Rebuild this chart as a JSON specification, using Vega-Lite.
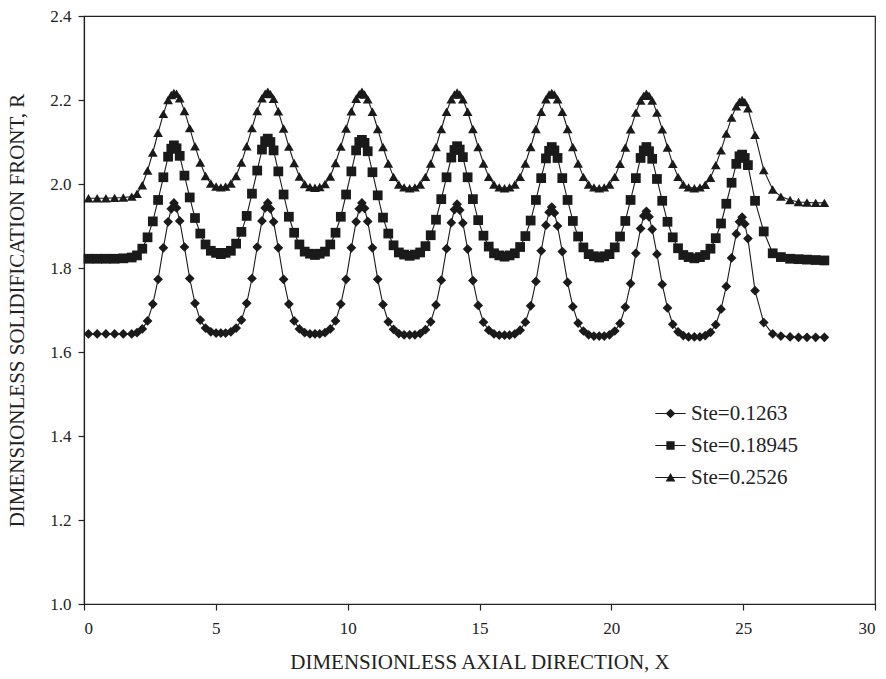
{
  "$schema": "https://vega.github.io/schema/vega-lite/v6.json",
  "width": 791,
  "height": 588,
  "autosize": {"type": "none"},
  "padding": {"left": 84, "top": 16, "right": 11, "bottom": 75},
  "background": "white",
  "config": {
    "view": {"stroke": "#222222", "strokeWidth": 1.2},
    "font": "Liberation Serif",
    "axis": {
      "grid": false,
      "domainColor": "#222222",
      "domainWidth": 1.2,
      "tickColor": "#222222",
      "tickWidth": 1.2,
      "tickSize": 6,
      "labelFont": "Liberation Serif",
      "labelFontSize": 17,
      "labelColor": "#222222",
      "titleFont": "Liberation Serif",
      "titleFontSize": 21,
      "titleFontWeight": "normal",
      "titleColor": "#222222"
    },
    "legend": {
      "labelFont": "Liberation Serif",
      "labelFontSize": 21,
      "labelColor": "#222222"
    }
  },
  "data": {
    "values": [
      {"x":0.17,"a":1.643,"b":1.822,"c":1.966},
      {"x":0.5,"a":1.643,"b":1.822,"c":1.966},
      {"x":0.83,"a":1.643,"b":1.822,"c":1.966},
      {"x":1.16,"a":1.643,"b":1.822,"c":1.967},
      {"x":1.49,"a":1.643,"b":1.823,"c":1.968},
      {"x":1.81,"a":1.643,"b":1.825,"c":1.970},
      {"x":2.01,"a":1.646,"b":1.830,"c":1.977},
      {"x":2.21,"a":1.655,"b":1.846,"c":1.997},
      {"x":2.41,"a":1.674,"b":1.873,"c":2.032},
      {"x":2.61,"a":1.714,"b":1.911,"c":2.075},
      {"x":2.81,"a":1.773,"b":1.962,"c":2.122},
      {"x":3.01,"a":1.848,"b":2.016,"c":2.167},
      {"x":3.19,"a":1.910,"b":2.065,"c":2.200},
      {"x":3.31,"a":1.941,"b":2.084,"c":2.212},
      {"x":3.41,"a":1.955,"b":2.092,"c":2.217},
      {"x":3.51,"a":1.943,"b":2.085,"c":2.215},
      {"x":3.63,"a":1.912,"b":2.067,"c":2.204},
      {"x":3.81,"a":1.850,"b":2.020,"c":2.174},
      {"x":4.01,"a":1.775,"b":1.968,"c":2.133},
      {"x":4.21,"a":1.716,"b":1.919,"c":2.090},
      {"x":4.41,"a":1.676,"b":1.882,"c":2.051},
      {"x":4.61,"a":1.657,"b":1.856,"c":2.019},
      {"x":4.81,"a":1.648,"b":1.841,"c":2.001},
      {"x":5.01,"a":1.645,"b":1.836,"c":1.994},
      {"x":5.19,"a":1.645,"b":1.833,"c":1.992},
      {"x":5.37,"a":1.645,"b":1.836,"c":1.994},
      {"x":5.57,"a":1.648,"b":1.841,"c":2.001},
      {"x":5.77,"a":1.657,"b":1.858,"c":2.019},
      {"x":5.97,"a":1.676,"b":1.886,"c":2.051},
      {"x":6.17,"a":1.716,"b":1.924,"c":2.090},
      {"x":6.37,"a":1.775,"b":1.977,"c":2.133},
      {"x":6.57,"a":1.850,"b":2.032,"c":2.174},
      {"x":6.75,"a":1.912,"b":2.082,"c":2.204},
      {"x":6.87,"a":1.943,"b":2.102,"c":2.215},
      {"x":6.97,"a":1.955,"b":2.108,"c":2.220},
      {"x":7.07,"a":1.941,"b":2.100,"c":2.214},
      {"x":7.19,"a":1.910,"b":2.080,"c":2.203},
      {"x":7.37,"a":1.848,"b":2.030,"c":2.173},
      {"x":7.57,"a":1.773,"b":1.975,"c":2.132},
      {"x":7.77,"a":1.714,"b":1.922,"c":2.089},
      {"x":7.97,"a":1.674,"b":1.884,"c":2.050},
      {"x":8.17,"a":1.655,"b":1.856,"c":2.018},
      {"x":8.37,"a":1.646,"b":1.839,"c":2.000},
      {"x":8.57,"a":1.643,"b":1.834,"c":1.993},
      {"x":8.76,"a":1.643,"b":1.831,"c":1.991},
      {"x":8.94,"a":1.643,"b":1.834,"c":1.993},
      {"x":9.14,"a":1.646,"b":1.839,"c":2.000},
      {"x":9.34,"a":1.655,"b":1.856,"c":2.018},
      {"x":9.54,"a":1.674,"b":1.884,"c":2.050},
      {"x":9.74,"a":1.714,"b":1.922,"c":2.089},
      {"x":9.94,"a":1.773,"b":1.975,"c":2.132},
      {"x":10.14,"a":1.848,"b":2.030,"c":2.173},
      {"x":10.32,"a":1.910,"b":2.080,"c":2.203},
      {"x":10.44,"a":1.941,"b":2.100,"c":2.214},
      {"x":10.54,"a":1.955,"b":2.105,"c":2.220},
      {"x":10.64,"a":1.942,"b":2.098,"c":2.213},
      {"x":10.76,"a":1.911,"b":2.078,"c":2.202},
      {"x":10.94,"a":1.848,"b":2.028,"c":2.172},
      {"x":11.14,"a":1.773,"b":1.973,"c":2.131},
      {"x":11.34,"a":1.713,"b":1.920,"c":2.088},
      {"x":11.54,"a":1.672,"b":1.882,"c":2.049},
      {"x":11.74,"a":1.654,"b":1.854,"c":2.017},
      {"x":11.94,"a":1.644,"b":1.837,"c":1.999},
      {"x":12.14,"a":1.641,"b":1.832,"c":1.992},
      {"x":12.35,"a":1.641,"b":1.829,"c":1.990},
      {"x":12.55,"a":1.641,"b":1.832,"c":1.992},
      {"x":12.75,"a":1.644,"b":1.837,"c":1.999},
      {"x":12.95,"a":1.653,"b":1.852,"c":2.017},
      {"x":13.15,"a":1.672,"b":1.878,"c":2.049},
      {"x":13.35,"a":1.712,"b":1.915,"c":2.088},
      {"x":13.55,"a":1.771,"b":1.964,"c":2.131},
      {"x":13.75,"a":1.846,"b":2.016,"c":2.172},
      {"x":13.93,"a":1.908,"b":2.063,"c":2.202},
      {"x":14.05,"a":1.939,"b":2.081,"c":2.213},
      {"x":14.15,"a":1.952,"b":2.090,"c":2.218},
      {"x":14.25,"a":1.938,"b":2.082,"c":2.213},
      {"x":14.37,"a":1.907,"b":2.064,"c":2.202},
      {"x":14.55,"a":1.845,"b":2.016,"c":2.172},
      {"x":14.75,"a":1.770,"b":1.964,"c":2.131},
      {"x":14.95,"a":1.711,"b":1.914,"c":2.088},
      {"x":15.15,"a":1.671,"b":1.877,"c":2.049},
      {"x":15.35,"a":1.652,"b":1.851,"c":2.017},
      {"x":15.55,"a":1.643,"b":1.835,"c":1.999},
      {"x":15.75,"a":1.640,"b":1.830,"c":1.992},
      {"x":15.95,"a":1.640,"b":1.827,"c":1.990},
      {"x":16.14,"a":1.640,"b":1.830,"c":1.992},
      {"x":16.34,"a":1.643,"b":1.835,"c":1.999},
      {"x":16.54,"a":1.652,"b":1.850,"c":2.017},
      {"x":16.74,"a":1.671,"b":1.876,"c":2.049},
      {"x":16.94,"a":1.710,"b":1.913,"c":2.088},
      {"x":17.14,"a":1.768,"b":1.962,"c":2.131},
      {"x":17.34,"a":1.841,"b":2.014,"c":2.172},
      {"x":17.52,"a":1.902,"b":2.061,"c":2.202},
      {"x":17.64,"a":1.933,"b":2.079,"c":2.213},
      {"x":17.74,"a":1.945,"b":2.088,"c":2.217},
      {"x":17.84,"a":1.931,"b":2.080,"c":2.213},
      {"x":17.96,"a":1.900,"b":2.062,"c":2.202},
      {"x":18.14,"a":1.839,"b":2.014,"c":2.172},
      {"x":18.34,"a":1.766,"b":1.962,"c":2.131},
      {"x":18.54,"a":1.708,"b":1.912,"c":2.088},
      {"x":18.74,"a":1.669,"b":1.875,"c":2.049},
      {"x":18.94,"a":1.650,"b":1.849,"c":2.017},
      {"x":19.14,"a":1.641,"b":1.833,"c":1.999},
      {"x":19.34,"a":1.638,"b":1.828,"c":1.992},
      {"x":19.54,"a":1.638,"b":1.825,"c":1.990},
      {"x":19.73,"a":1.638,"b":1.828,"c":1.992},
      {"x":19.93,"a":1.641,"b":1.833,"c":1.999},
      {"x":20.13,"a":1.650,"b":1.849,"c":2.017},
      {"x":20.33,"a":1.668,"b":1.875,"c":2.048},
      {"x":20.53,"a":1.707,"b":1.912,"c":2.087},
      {"x":20.73,"a":1.763,"b":1.962,"c":2.130},
      {"x":20.93,"a":1.835,"b":2.014,"c":2.170},
      {"x":21.11,"a":1.894,"b":2.062,"c":2.199},
      {"x":21.23,"a":1.924,"b":2.080,"c":2.210},
      {"x":21.33,"a":1.935,"b":2.088,"c":2.215},
      {"x":21.43,"a":1.922,"b":2.078,"c":2.210},
      {"x":21.55,"a":1.892,"b":2.060,"c":2.199},
      {"x":21.73,"a":1.833,"b":2.012,"c":2.170},
      {"x":21.93,"a":1.761,"b":1.960,"c":2.130},
      {"x":22.13,"a":1.705,"b":1.910,"c":2.087},
      {"x":22.33,"a":1.666,"b":1.873,"c":2.048},
      {"x":22.53,"a":1.648,"b":1.847,"c":2.017},
      {"x":22.73,"a":1.639,"b":1.831,"c":1.999},
      {"x":22.93,"a":1.636,"b":1.826,"c":1.992},
      {"x":23.15,"a":1.636,"b":1.823,"c":1.990},
      {"x":23.36,"a":1.636,"b":1.826,"c":1.992},
      {"x":23.56,"a":1.639,"b":1.831,"c":1.998},
      {"x":23.76,"a":1.647,"b":1.846,"c":2.015},
      {"x":23.96,"a":1.665,"b":1.871,"c":2.045},
      {"x":24.16,"a":1.702,"b":1.906,"c":2.080},
      {"x":24.36,"a":1.756,"b":1.953,"c":2.120},
      {"x":24.56,"a":1.824,"b":2.003,"c":2.158},
      {"x":24.74,"a":1.881,"b":2.048,"c":2.185},
      {"x":24.86,"a":1.910,"b":2.066,"c":2.196},
      {"x":24.96,"a":1.921,"b":2.070,"c":2.200},
      {"x":25.06,"a":1.905,"b":2.062,"c":2.195},
      {"x":25.18,"a":1.870,"b":2.045,"c":2.180},
      {"x":25.45,"a":1.746,"b":1.960,"c":2.117},
      {"x":25.78,"a":1.670,"b":1.887,"c":2.033},
      {"x":26.12,"a":1.643,"b":1.835,"c":1.987},
      {"x":26.43,"a":1.638,"b":1.826,"c":1.970},
      {"x":26.78,"a":1.636,"b":1.822,"c":1.962},
      {"x":27.1,"a":1.635,"b":1.821,"c":1.957},
      {"x":27.42,"a":1.635,"b":1.820,"c":1.956},
      {"x":27.75,"a":1.635,"b":1.819,"c":1.955},
      {"x":28.08,"a":1.635,"b":1.818,"c":1.955}
    ]
  },
  "transform": [
    {"fold": ["a", "b", "c"], "as": ["series", "R"]}
  ],
  "encoding": {
    "x": {
      "field": "x",
      "type": "quantitative",
      "scale": {"domain": [0, 30], "nice": false},
      "axis": {
        "values": [0, 5, 10, 15, 20, 25, 30],
        "labelPadding": 10,
        "title": "DIMENSIONLESS AXIAL DIRECTION, X",
        "titlePadding": 15
      }
    },
    "y": {
      "field": "R",
      "type": "quantitative",
      "scale": {"domain": [1.0, 2.4], "nice": false, "zero": false},
      "axis": {
        "values": [1.0, 1.2, 1.4, 1.6, 1.8, 2.0, 2.2, 2.4],
        "format": ".1f",
        "labelPadding": 7,
        "title": "DIMENSIONLESS SOLIDIFICATION FRONT, R",
        "titlePadding": 22
      }
    }
  },
  "layer": [
    {
      "mark": {"type": "line", "color": "#1a1a1a", "strokeWidth": 1.1},
      "encoding": {"detail": {"field": "series"}}
    },
    {
      "mark": {"type": "point", "filled": true, "color": "#1a1a1a", "opacity": 1, "size": 95},
      "encoding": {
        "shape": {
          "field": "series",
          "scale": {"domain": ["a", "b", "c"], "range": ["diamond", "square", "triangle-up"]},
          "legend": null
        }
      }
    },
    {
      "transform": [{"filter": "datum.x > 100"}],
      "mark": {"type": "point", "filled": true, "color": "#1a1a1a", "opacity": 1, "size": 95},
      "encoding": {
        "shape": {
          "field": "series",
          "scale": {
            "domain": ["a", "b", "c"],
            "range": [
              "M-3.1,-0.11H3.1V0.11H-3.1ZM-1,0L0,-1L1,0L0,1Z",
              "M-3.1,-0.11H3.1V0.11H-3.1ZM-0.85,-0.85H0.85V0.85H-0.85Z",
              "M-3.1,-0.11H3.1V0.11H-3.1ZM0,-0.9L1,0.8L-1,0.8Z"
            ]
          },
          "legend": {
            "title": null,
            "orient": "none",
            "legendX": 576,
            "legendY": 387,
            "padding": 0,
            "symbolSize": 95,
            "symbolFillColor": "#1a1a1a",
            "symbolOpacity": 1,
            "labelOffset": 10,
            "rowPadding": 10,
            "labelExpr": "datum.value == 'a' ? 'Ste=0.1263' : datum.value == 'b' ? 'Ste=0.18945' : 'Ste=0.2526'"
          }
        }
      }
    }
  ],
  "resolve": {"scale": {"shape": "independent"}, "legend": {"shape": "independent"}}
}
